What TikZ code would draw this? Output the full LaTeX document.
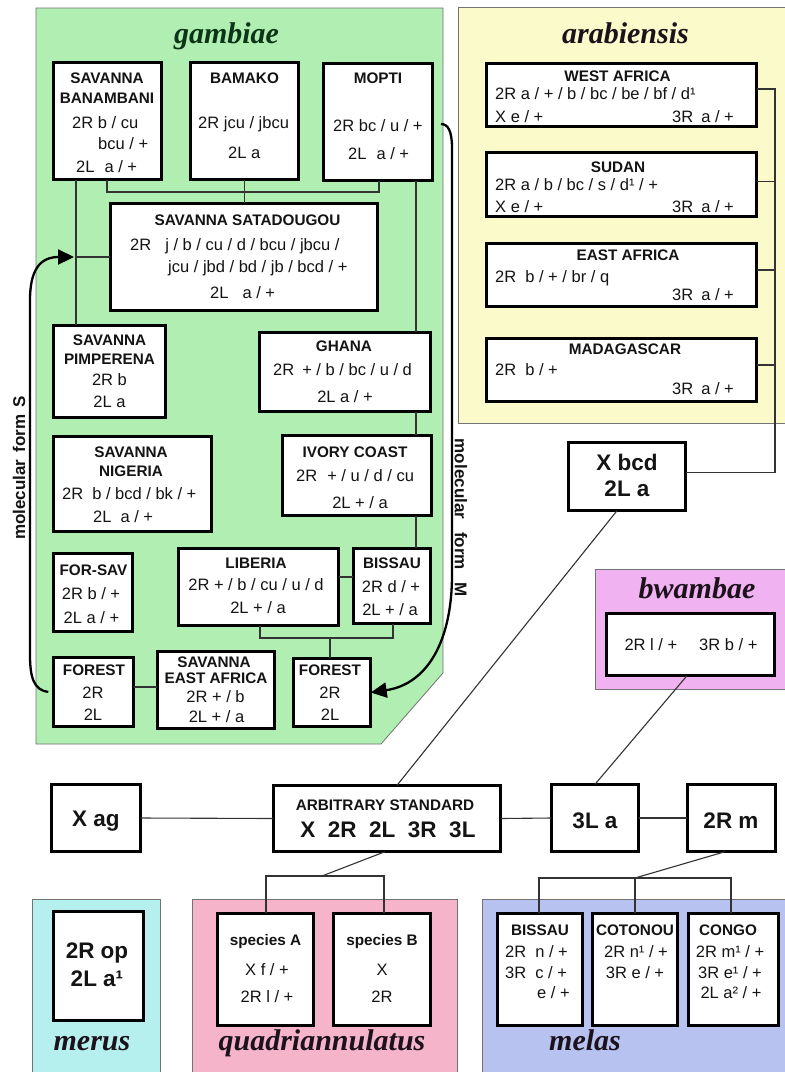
\documentclass[tikz,border=0pt]{standalone}
\usepackage{fontspec}
\setmainfont{Liberation Sans}
\newfontfamily\serifbi{Liberation Serif}
\usetikzlibrary{arrows.meta}
\definecolor{gambc}{RGB}{176,238,178}
\definecolor{arabc}{RGB}{250,250,202}
\definecolor{bwamc}{RGB}{240,178,240}
\definecolor{meruc}{RGB}{182,240,238}
\definecolor{quadc}{RGB}{246,180,202}
\definecolor{melac}{RGB}{184,194,240}
\definecolor{gtitle}{RGB}{12,52,22}
\definecolor{ptitlec}{RGB}{28,18,28}
\definecolor{txtc}{RGB}{20,20,20}
\newcommand\bxat[6][bx]{\node[#1, minimum width={#5-#3-2.6}, minimum height={#6-#4-2.6}] (#2) at ({(#3+#5)/2},{(#4+#6)/2}) {};}
\newcommand\tc[5]{\node[#1,anchor=base] (#2) at (#3,#4) {#5};}
\newcommand\tw[5]{\node[#1,anchor=base west] (#2) at (#3,#4) {#5};}
\begin{document}
\begin{tikzpicture}[x=1pt,y=-1pt,
  bx/.style={draw=black, line width=2.6pt, fill=white, inner sep=0pt, outer sep=0pt},
  bbx/.style={bx, line width=3.4pt},
  tl/.style={font=\fontsize{15.3}{18}\selectfont\bfseries, inner sep=0pt, text=txtc},
  tx/.style={font=\fontsize{16.5}{19}\selectfont, inner sep=0pt, text=txtc},
  bg/.style={font=\fontsize{22.5}{26}\selectfont\bfseries, inner sep=0pt, text=txtc},
  ptitle/.style={font=\fontsize{30}{34}\serifbi\bfseries\itshape\selectfont, inner sep=0pt, text=ptitlec, anchor=base},
  lab/.style={font=\fontsize{17}{20}\selectfont\bfseries, inner sep=0pt, text=txtc},
  con/.style={line width=1.1pt, draw=black!80},
  arr/.style={line width=2.3pt, draw=black, -{Triangle[length=16pt,width=15pt]}},
  panel/.style={draw=black!55, line width=0.8pt}]
\useasboundingbox (0,0) rectangle (785,1072);
\fill[white] (0,0) rectangle (785,1072);
\begin{scope}
\clip (0,0) rectangle (785,1072);
% panels
\path[panel, fill=gambc] (36,8) -- (443,8) -- (443,673) -- (381,744) -- (36,744) -- cycle;
\path[panel, fill=arabc] (458,7) rectangle (795,423);
\path[panel, fill=bwamc] (595,569) rectangle (795,689);
\path[panel, fill=meruc] (32,899) rectangle (160,1085);
\path[panel, fill=quadc] (192,899) rectangle (457,1085);
\path[panel, fill=melac] (482,899) rectangle (795,1085);
\end{scope}
% panel titles
\node[ptitle, text=gtitle] (tgam) at (226.5,43) {gambiae};
\node[ptitle] (tara) at (625.5,43) {arabiensis};
\node[ptitle] (tbwa) at (697,598) {bwambae};
\node[ptitle] (tmer) at (92,1050) {merus};
\node[ptitle] (tqua) at (322,1050) {quadriannulatus};
\node[ptitle] (tmel) at (585,1050) {melas};
% boxes
\bxat{ban}{52}{61}{163}{181}
\bxat{bam}{189}{61}{300}{181}
\bxat{mop}{322}{62}{434}{182}
\bxat{sat}{109}{202}{379}{312}
\bxat{pim}{52}{324}{167}{419}
\bxat{gha}{258}{331}{432}{413}
\bxat{nig}{52}{435}{213}{533}
\bxat{ivo}{281}{434}{433}{517}
\bxat{fsv}{52}{552}{134}{633}
\bxat{lib}{177}{547}{340}{627}
\bxat{bis}{352}{547}{432}{625}
\bxat{fos}{52}{656}{135}{728}
\bxat{sea}{156}{650}{276}{730}
\bxat{fom}{292}{657}{372}{728}
\bxat{wa}{485}{62}{758}{128}
\bxat{su}{485}{151}{758}{218}
\bxat{ea}{485}{242}{758}{308}
\bxat{mad}{485}{337}{758}{403}
\bxat[bbx]{xbcd}{567}{441}{687}{512}
\bxat{bwb}{605}{612}{776}{677}
\bxat[bbx]{xag}{50}{783}{142}{853}
\bxat[bbx]{arb}{272}{784}{502}{853}
\bxat[bbx]{la3}{550}{783}{640}{853}
\bxat[bbx]{rm}{686}{783}{777}{853}
\bxat[bbx]{mer}{52}{910}{145}{1022}
\bxat{spa}{216}{912}{315}{1027}
\bxat{spb}{332}{912}{432}{1027}
\bxat{mbi}{496}{912}{584}{1027}
\bxat{cot}{591}{912}{679}{1027}
\bxat{cgo}{687}{912}{780}{1027}
% connector coordinates
\coordinate (vL) at (76,0);
\coordinate (vR) at (416,0);
\coordinate (b1) at (107,192);
\coordinate (b2) at (379,192);
\coordinate (lb) at (0,577);
\coordinate (m1) at (260,638);
\coordinate (m2) at (393,638);
\coordinate (m3) at (330,638);
\coordinate (fs) at (0,687);
\coordinate (ar) at (775,0);
\coordinate (d1) at (617,0);
\coordinate (d2) at (397,0);
\coordinate (w1) at (687,0);
\coordinate (q1) at (266,876);
\coordinate (q2) at (384,876);
\coordinate (q3) at (322,876);
\coordinate (r0) at (725,0);
\coordinate (n1) at (539,878);
\coordinate (n2) at (635,878);
\coordinate (n3) at (731,878);
% gambiae connectors
\draw[con] (ban.south -| vL) -- (pim.north -| vL);
\draw[con] (ban.south -| b1) -- (b1) -- (b2) -- (mop.south -| b2);
\draw[con] (bam.south) -- (bam.south |- sat.north);
\draw[con] (mop.south -| vR) -- (gha.north -| vR);
\draw[con] (gha.south -| vR) -- (ivo.north -| vR);
\draw[con] (ivo.south -| vR) -- (bis.north -| vR);
\draw[con] (sat.west) -- (sat.west -| vL);
\draw[con] (lib.east |- lb) -- (bis.west |- lb);
\draw[con] (lib.south -| m1) -- (m1) -- (m2) -- (bis.south -| m2);
\draw[con] (m3) -- (fom.north -| m3);
\draw[con] (fos.east |- fs) -- (sea.west |- fs);
% arabiensis connectors
\draw[con] ([yshift=6pt]wa.east) -- ([yshift=6pt]wa.east -| ar) -- ([yshift=4pt]xbcd.east -| ar) -- ([yshift=4pt]xbcd.east);
\draw[con] ([yshift=3pt]su.east) -- ([yshift=3pt]su.east -| ar);
\draw[con] ([yshift=5pt]ea.east) -- ([yshift=5pt]ea.east -| ar);
\draw[con] ([yshift=5pt]mad.east) -- ([yshift=5pt]mad.east -| ar);
% lower connectors
\draw[con] (xbcd.south -| d1) -- (arb.north -| d2);
\draw[con] (bwb.south -| w1) -- (la3.north);
\draw[con] (xag.east) -- (arb.west);
\draw[con] (arb.east) -- (la3.west);
\draw[con] (la3.east) -- (rm.west);
\draw[con] ([xshift=-2pt]arb.south) -- (q3);
\draw[con] (spa.north -| q1) -- (q1) -- (q2) -- (spb.north -| q2);
\draw[con] (rm.south -| r0) -- (n2);
\draw[con] (mbi.north -| n1) -- (n1) -- (n3) -- (cgo.north -| n3);
\draw[con] (n2) -- (cot.north -| n2);
% molecular form arrows
\coordinate (sTip) at (74,257);
\coordinate (mS) at (441,124);
\draw[arr] ([xshift=-5pt]fos.west) .. controls (34,690) and (30,678) .. (30,655) -- (30,300) .. controls (30,270) and (40,257) .. (sTip);
\draw[arr] (mS) .. controls (448,124) and (452,131) .. (452,148) -- (452,575) .. controls (452,640) and (428,684) .. (fom.east);
\node[lab, rotate=90] (labS) at (19,468) {molecular\hspace{7pt}form\hspace{7pt}S};
\node[lab, rotate=-90] (labM) at (461,518) {molecular\hspace{13pt}form\hspace{13pt}M};
% gambiae texts
\tc{tl}{ban1}{107}{83}{SAVANNA}
\tc{tl}{ban2}{107}{103}{BANAMBANI}
\tw{tx}{ban3}{72}{128.5}{2R b / cu}
\tw{tx}{ban4}{98}{149.5}{bcu / +}
\tw{tx}{ban5}{76}{172.5}{2L\hspace{10pt}a / +}
\tc{tl}{bam1}{244.5}{83}{BAMAKO}
\tw{tx}{bam2}{198}{128.5}{2R jcu / jbcu}
\tw{tx}{bam3}{228}{158.5}{2L a}
\tc{tl}{mop1}{378}{83}{MOPTI}
\tw{tx}{mop2}{333}{131.5}{2R bc / u / +}
\tw{tx}{mop3}{348}{159.5}{2L\hspace{10pt}a / +}
\tc{tl}{sat1}{247.5}{225.5}{SAVANNA SATADOUGOU}
\tw{tx}{sat2}{130}{250.5}{2R\hspace{14pt}j / b / cu / d / bcu / jbcu /}
\tw{tx}{sat3}{168}{272.5}{jcu / jbd / bd / jb / bcd / +}
\tw{tx}{sat4}{210}{298.5}{2L\hspace{14pt}a / +}
\tc{tl}{pim1}{109.5}{345.5}{SAVANNA}
\tc{tl}{pim2}{109.5}{364.5}{PIMPERENA}
\tc{tx}{pim3}{109.5}{385.5}{2R b}
\tc{tx}{pim4}{109.5}{407.5}{2L a}
\tc{tl}{gha1}{344}{351.5}{GHANA}
\tw{tx}{gha2}{273}{375.5}{2R\hspace{8pt}+ / b / bc / u / d}
\tc{tx}{gha3}{345}{402.5}{2L a / +}
\tc{tl}{nig1}{131}{457.5}{SAVANNA}
\tc{tl}{nig2}{131}{476.5}{NIGERIA}
\tw{tx}{nig3}{62}{499.5}{2R\hspace{9pt}b / bcd / bk / +}
\tw{tx}{nig4}{93}{522.5}{2L\hspace{9pt}a / +}
\tc{tl}{ivo1}{355}{457.5}{IVORY COAST}
\tw{tx}{ivo2}{296}{481.5}{2R\hspace{10pt}+ / u / d / cu}
\tc{tx}{ivo3}{360}{508.5}{2L + / a}
\tc{tl}{fsv1}{93.5}{575.5}{FOR-SAV}
\tc{tx}{fsv2}{91}{599.5}{2R b / +}
\tc{tx}{fsv3}{91.5}{623.5}{2L a / +}
\tc{tl}{lib1}{256}{568.5}{LIBERIA}
\tc{tx}{lib2}{256}{590.5}{2R + / b / cu / u / d}
\tc{tx}{lib3}{258}{613.5}{2L + / a}
\tc{tl}{bis1}{392}{568.5}{BISSAU}
\tc{tx}{bis2}{391}{592.5}{2R d / +}
\tc{tx}{bis3}{390}{615.5}{2L + / a}
\tc{tl}{fos1}{94}{675.5}{FOREST}
\tc{tx}{fos2}{93}{698.5}{2R}
\tc{tx}{fos3}{93}{720.5}{2L}
\tc{tl}{sea1}{214}{667.5}{SAVANNA}
\tc{tl}{sea2}{216}{683.5}{EAST AFRICA}
\tc{tx}{sea3}{215.5}{702.5}{2R + / b}
\tc{tx}{sea4}{216.5}{722.5}{2L + / a}
\tc{tl}{fom1}{330}{675.5}{FOREST}
\tc{tx}{fom2}{330}{698.5}{2R}
\tc{tx}{fom3}{330}{720.5}{2L}
% arabiensis texts
\tc{tl}{wa1}{617.5}{81.5}{WEST AFRICA}
\tw{tx}{wa2}{495}{99.5}{2R a / + / b / bc / be / bf / d¹}
\tw{tx}{wa3}{495}{122.5}{X e / +}
\tw{tx}{wa4}{672}{122.5}{3R\hspace{8pt}a / +}
\tc{tl}{su1}{618}{172.5}{SUDAN}
\tw{tx}{su2}{495}{190.5}{2R a / b / bc / s / d¹ / +}
\tw{tx}{su3}{495}{212.5}{X e / +}
\tw{tx}{su4}{672}{212.5}{3R\hspace{8pt}a / +}
\tc{tl}{ea1}{628}{260.5}{EAST AFRICA}
\tw{tx}{ea2}{495}{282.5}{2R\hspace{9pt}b / + / br / q}
\tw{tx}{ea3}{672}{300.5}{3R\hspace{8pt}a / +}
\tc{tl}{mad1}{625}{354.5}{MADAGASCAR}
\tw{tx}{mad2}{495}{375.5}{2R\hspace{9pt}b / +}
\tw{tx}{mad3}{672}{394.5}{3R\hspace{8pt}a / +}
\tc{bg}{xb1}{627}{470}{X bcd}
\tc{bg}{xb2}{627}{496}{2L a}
% bwambae
\tc{tx}{bw1}{691}{650.5}{2R l / +\hspace{22pt}3R b / +}
% standard row
\tc{bg}{xag1}{96}{826}{X ag}
\tc{tl}{arb1}{385}{810.5}{ARBITRARY STANDARD}
\tc{bg}{arb2}{388}{837}{X\hspace{12.5pt}2R\hspace{12.5pt}2L\hspace{12.5pt}3R\hspace{12.5pt}3L}
\tc{bg}{la31}{595}{828}{3L a}
\tc{bg}{rm1}{731}{828}{2R m}
% merus
\tc{bg}{mer1}{97}{958}{2R op}
\tc{bg}{mer2}{97}{986}{2L a¹}
% quadriannulatus
\tc{tl}{spa1}{265.5}{945.5}{species A}
\tc{tx}{spa2}{267}{975.5}{X f / +}
\tc{tx}{spa3}{267}{1002.5}{2R l / +}
\tc{tl}{spb1}{382}{945.5}{species B}
\tc{tx}{spb2}{382}{975.5}{X}
\tc{tx}{spb3}{382}{1002.5}{2R}
% melas
\tc{tl}{mb1}{540}{935.5}{BISSAU}
\tw{tx}{mb2}{505}{957.5}{2R\hspace{9pt}n / +}
\tw{tx}{mb3}{505}{978}{3R\hspace{9pt}c / +}
\node[tx, anchor=base east] (mb4) at (570,998) {e / +};
\tc{tl}{cot1}{635}{935.5}{COTONOU}
\tc{tx}{cot2}{636}{957.5}{2R n¹ / +}
\tc{tx}{cot3}{635}{978}{3R e / +}
\tc{tl}{cg1}{728}{935.5}{CONGO}
\tc{tx}{cg2}{730}{957.5}{2R m¹ / +}
\tc{tx}{cg3}{730}{978}{3R e¹ / +}
\tc{tx}{cg4}{731}{998}{2L a² / +}
\end{tikzpicture}
\end{document}
